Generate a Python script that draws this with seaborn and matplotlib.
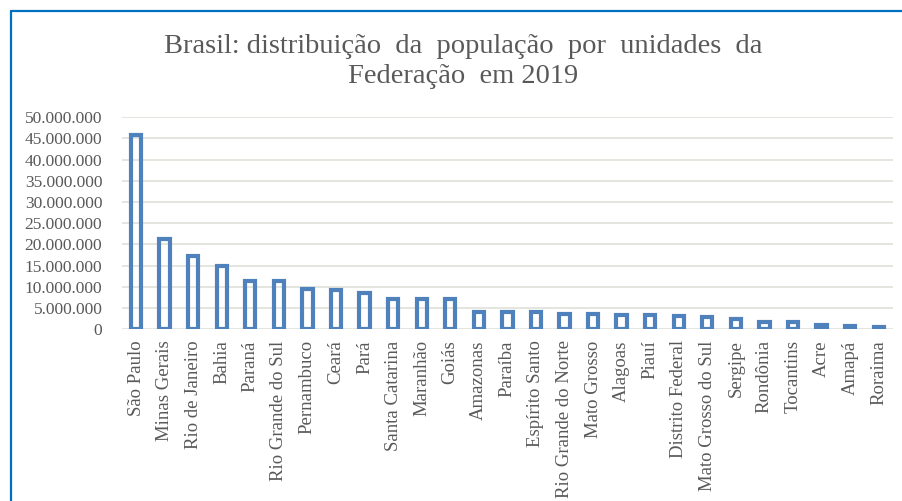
import matplotlib
matplotlib.use('Agg')
import matplotlib.pyplot as plt
import seaborn as sns
from matplotlib.lines import Line2D
from matplotlib.ticker import FuncFormatter

# populacao estimada por UF, 2019
estados = ['São Paulo', 'Minas Gerais', 'Rio de Janeiro', 'Bahia', 'Paraná',
           'Rio Grande do Sul', 'Pernambuco', 'Ceará', 'Pará', 'Santa Catarina',
           'Maranhão', 'Goiás', 'Amazonas', 'Paraíba', 'Espírito Santo',
           'Rio Grande do Norte', 'Mato Grosso', 'Alagoas', 'Piauí',
           'Distrito Federal', 'Mato Grosso do Sul', 'Sergipe', 'Rondônia',
           'Tocantins', 'Acre', 'Amapá', 'Roraima']
populacao = [45919049, 21168791, 17264943, 14873064, 11433957,
             11377239, 9557071, 9132078, 8602865, 7164788,
             7075181, 7018354, 4144597, 4018127, 4018650,
             3506853, 3484466, 3337357, 3273227,
             3015268, 2778986, 2298696, 1777225,
             1572866, 881935, 845731, 605761]
yticks = list(range(0, 50000001, 5000000))

titulo = 'Brasil: distribuição  da  população  por  unidades  da\nFederação  em 2019'

sns.set_style('white')
plt.rcParams['font.family'] = ['Liberation Serif', 'DejaVu Serif']
cinza = '#595959'
azul = '#4f81bd'

fig = plt.figure(figsize=(9.02, 5.01), dpi=100)
ax = fig.add_axes([0.135, 0.343, 0.855, 0.423])

sns.barplot(x=estados, y=populacao, fill=False, color=azul, width=0.36,
            linewidth=3.0, ax=ax, zorder=3)
for p in ax.patches:
    p.set_edgecolor(azul)

ax.set_ylim(0, 50000000)
ax.set_xlim(-0.5, len(estados) - 0.5)
ax.set_yticks(yticks)
ax.yaxis.set_major_formatter(FuncFormatter(lambda v, pos: f'{int(v):,}'.replace(',', '.')))
ax.grid(axis='y', color='#e3e3dc', linewidth=1.3, zorder=0)
ax.set_axisbelow(True)
for s in ax.spines.values():
    s.set_visible(False)
ax.tick_params(axis='both', length=0, labelcolor=cinza)
ax.tick_params(axis='x', pad=8, labelsize=13.5)
ax.tick_params(axis='y', pad=14, labelsize=12.5)
plt.setp(ax.get_xticklabels(), rotation=90)
ax.set_xlabel('')
ax.set_ylabel('')

# titulo com espacamento largo, como no original
linha1, linha2 = titulo.split('\n')
fig.text(0.513, 0.907, linha1, ha='center', va='center', fontsize=20.5,
         color=cinza)
fig.text(0.513, 0.848, linha2, ha='center', va='center', fontsize=20.5,
         color=cinza)

# moldura azul (topo e esquerda)
fig.add_artist(Line2D([0.0117, 1.0], [0.979, 0.979], color='#0070c0', linewidth=1.6))
fig.add_artist(Line2D([0.0117, 0.0117], [0.0, 0.979], color='#0070c0', linewidth=1.6))

fig.savefig('out.png', dpi=100)
